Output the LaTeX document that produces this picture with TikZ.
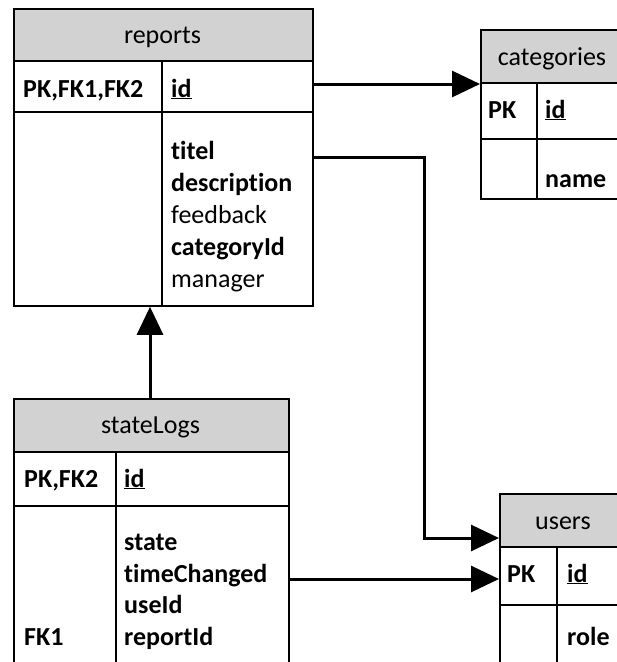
\documentclass[tikz,border=0pt]{standalone}
\usepackage{fontspec}
\setmainfont[Ligatures={NoCommon}]{Carlito}
\usetikzlibrary{arrows.meta}
\definecolor{headgray}{RGB}{210,210,210}
\begin{document}
\begin{tikzpicture}[x=1pt,y=-1pt,
  frame/.style={draw=black, line width=1.8pt, inner sep=0pt, anchor=north west},
  rule/.style={draw=black, line width=1.8pt},
  txt/.style={inner sep=0pt, anchor=base west, font=\fontsize{26}{32}\selectfont},
  key/.style={txt, font=\fontsize{26}{32}\selectfont\bfseries},
  title/.style={txt, anchor=base},
  link/.style={draw=black, line width=3pt, -{Triangle[length=28pt,width=26pt]}}]
\useasboundingbox (0,0) rectangle (617,662);
\clip (0,0) rectangle (617,662);

% ---------- reports ----------
\fill[headgray] (13,8) rectangle (312,61);
\node[frame, minimum width=299pt, minimum height=297pt] (reports) at (13,8) {};
\draw[rule] (13,61) -- (312,61) (13,112) -- (312,112) (162,61) -- (162,305);
\node[title] (rep-name) at (162.5,43) {reports};
\node[key] (rep-pk) at (23,97) {PK,FK1,FK2};
\node[key] (rep-id) at (171,97) {\underline{id}};
\node[key] (rep-f1) at (171,159) {titel};
\node[key] (rep-f2) at (171,191) {description};
\node[txt] (rep-f3) at (171,223) {feedback};
\node[key] (rep-f4) at (171,255) {categoryId};
\node[txt] (rep-f5) at (171,287) {manager};

% ---------- categories ----------
\fill[headgray] (480,29) rectangle (624,83);
\node[frame, minimum width=144pt, minimum height=169pt] (categories) at (480,29) {};
\draw[rule] (480,83) -- (624,83) (480,139) -- (624,139) (537,83) -- (537,198);
\node[title] (cat-name) at (552,65) {categories};
\node[key] (cat-pk) at (488,118) {PK};
\node[key] (cat-id) at (545,118) {\underline{id}};
\node[key] (cat-f1) at (545,187) {name};

% ---------- stateLogs ----------
\fill[headgray] (13,398) rectangle (288,452);
\node[frame, minimum width=275pt, minimum height=300pt] (statelogs) at (13,398) {};
\draw[rule] (13,452) -- (288,452) (13,506) -- (288,506) (116,452) -- (116,698);
\node[title] (sl-name) at (150.5,433) {stateLogs};
\node[key] (sl-pk) at (24,487) {PK,FK2};
\node[key] (sl-id) at (124,487) {\underline{id}};
\node[key] (sl-fk) at (24,645) {FK1};
\node[key] (sl-f1) at (124,550) {state};
\node[key] (sl-f2) at (124,582) {timeChanged};
\node[key] (sl-f3) at (124,613) {useId};
\node[key] (sl-f4) at (124,645) {reportId};

% ---------- users ----------
\fill[headgray] (499,493) rectangle (627,547);
\node[frame, minimum width=128pt, minimum height=200pt] (users) at (499,493) {};
\draw[rule] (499,547) -- (627,547) (499,605) -- (627,605) (557,547) -- (557,693);
\node[title] (usr-name) at (563,529) {users};
\node[key] (usr-pk) at (507,582) {PK};
\node[key] (usr-id) at (567,582) {\underline{id}};
\node[key] (usr-f1) at (567,645) {role};

% ---------- relations ----------
\coordinate (rep-cat-a) at (312,84);
\coordinate (rep-usr-a) at (312,157);
\coordinate (rep-usr-b) at (424,157);
\coordinate (rep-usr-c) at (424,538);
\coordinate (sl-usr-a) at (288,579);

\draw[link] (rep-cat-a) -- (categories.west |- rep-cat-a);
\draw[link] (rep-usr-a) -- (rep-usr-b) -- (rep-usr-c) -- (users.west |- rep-usr-c);
\draw[link] (statelogs.north -| 150,0) -- (reports.south -| 150,0);
\draw[link] (sl-usr-a) -- (users.west |- sl-usr-a);
\end{tikzpicture}
\end{document}
